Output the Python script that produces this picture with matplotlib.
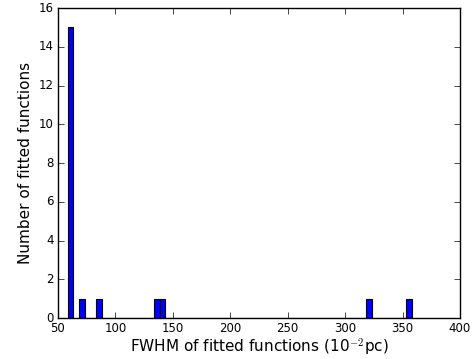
import numpy as np
import matplotlib
matplotlib.use("Agg")
import matplotlib.pyplot as plt

# histogram of FWHM values (bin centres, counts), bin width 5
bin_centers = [60.9, 70.9, 85.9, 135.9, 140.9, 320.9, 355.9]
counts = [15, 1, 1, 1, 1, 1, 1]
bin_width = 5.0

plt.style.use('classic')
fig = plt.figure(figsize=(4.77, 3.59), dpi=100)
ax = fig.add_axes([58 / 477, 41 / 359, 402 / 477, 310 / 359])

ax.hist(bin_centers, bins=np.arange(58.4, 358.5, bin_width), weights=counts,
        color='blue', edgecolor='black', linewidth=0.8)

ax.set_xlim(50, 400)
ax.set_ylim(0, 16)
ax.set_xticks(np.arange(50, 401, 50))
ax.set_yticks(np.arange(0, 17, 2))
ax.tick_params(labelsize=8.5, pad=3)
ax.set_xlabel(r'FWHM of fitted functions (10$^{-2}$pc)', fontsize=11, labelpad=1)
ax.set_ylabel('Number of fitted functions', fontsize=11, labelpad=4)

fig.savefig('out.png', dpi=100)
